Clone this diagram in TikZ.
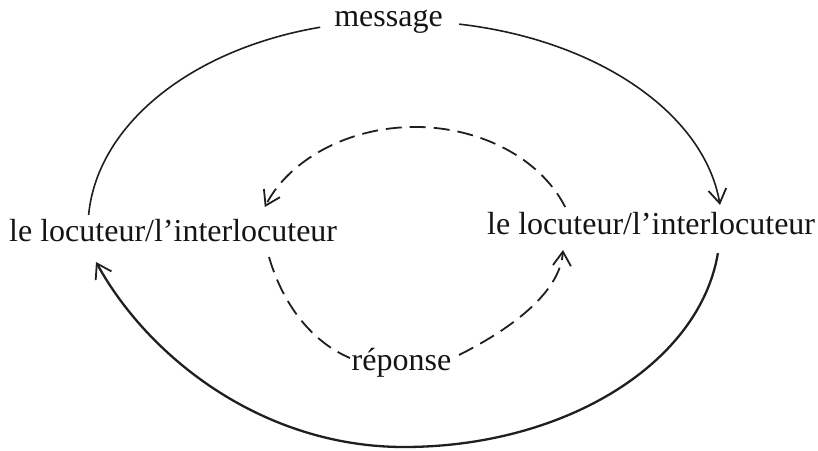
\documentclass[tikz,border=0pt]{standalone}
\usepackage{fontspec}
\setmainfont{Liberation Serif}
\usetikzlibrary{arrows.meta}

\begin{document}
\begin{tikzpicture}[x=1pt,y=1pt,
  lbl/.style={inner sep=0pt, font=\fontsize{32}{38}\selectfont, text=black!92},
  outer/.style={draw=black!88, line width=1.6pt},
  heavy/.style={draw=black!88, line width=2.3pt},
  dashline/.style={draw=black!88, line width=1.8pt, dash pattern=on 16pt off 8pt},
  vtip/.style={-{Straight Barb[length=14pt,width=18pt,line width=1.8pt]}}
]
\useasboundingbox (0,0) rectangle (818,450);

% the four labels
\node[lbl, anchor=base] (msg) at (388.5,423) {message};
\node[lbl, anchor=base west] (L) at (9,208) {le locuteur/l’interlocuteur};
\node[lbl, anchor=base west] (R) at (487,215) {le locuteur/l’interlocuteur};
\node[lbl, anchor=base] (rep) at (401.5,80) {réponse};

% end points of the connectors, next to the labels
\path (395,222) ++(176.4:307 and 207) coordinate (L-up);
\path (404,222) ++(80:318 and 207)    coordinate (msg-east);
\path (404,222) ++(-6.6:316 and 219)  coordinate (R-down);
\path (415,195) ++(22:162 and 128)    coordinate (R-up);
\coordinate (L-down) at (96,188);
\coordinate (L-in)   at (269,193);
\coordinate (R-in)   at (563,200);
\coordinate (rep-west) at (350,92);
\coordinate (rep-east) at (459,95);

% outer loop: message from one speaker to the other, and back
\draw[outer] (L-up) arc[start angle=176.4, end angle=104.1, x radius=307, y radius=207];
\draw[outer, vtip] (msg-east) arc[start angle=80, end angle=6.4, x radius=318, y radius=207];
\draw[heavy, vtip] (R-down) arc[start angle=-6.6, end angle=-90, x radius=316, y radius=219]
      .. controls (265,3) and (150,90) .. (L-down);

% inner loop: the answer, dashed
\draw[dashline, vtip] (R-up) arc[start angle=22, end angle=158, x radius=162, y radius=128];
\draw[dashline] (L-in) .. controls (283,145) and (312,108) .. (rep-west);
\draw[dashline, vtip] (rep-east) .. controls (505,118) and (560,155) .. (R-in);
\end{tikzpicture}
\end{document}
